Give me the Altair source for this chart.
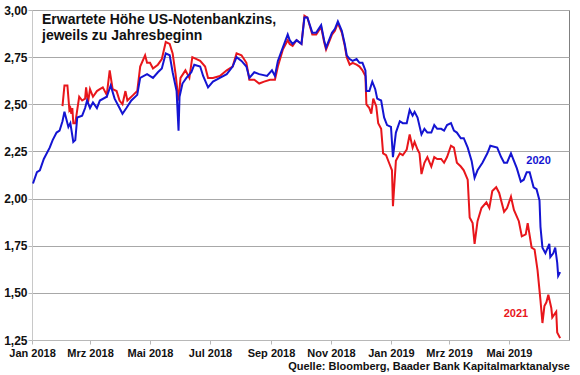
import altair as alt
import pandas as pd

# Days since 2018-01-01 and values (expected Fed rate, %)
blue_days = [1, 5, 8, 12, 18, 21, 25, 28, 31, 33, 37, 39, 42, 44, 46, 51, 54, 56, 59, 62,
             66, 69, 76, 80, 84, 89, 92, 96, 101, 107, 110, 117, 123, 128, 132, 136, 140, 143, 147, 149,
             150, 153, 157, 162, 165, 171, 174, 179, 184, 191, 198, 204, 208, 213, 218, 221, 226, 231, 239, 244,
             247, 250, 255, 260, 262, 265, 269, 274, 277, 280, 285, 289, 294, 297, 299, 305, 308, 311, 315, 318,
             320, 323, 326, 330, 333, 336, 339, 340, 343, 346, 349, 351, 355, 358, 361, 365, 367, 370, 374, 377,
             381, 384, 387, 389, 392, 396, 399, 402, 406, 409, 412, 416, 419, 422, 426, 429, 432, 436, 439, 443,
             447, 450, 453, 458, 463, 466, 473, 477, 480, 483, 487, 490, 493, 497, 500, 503, 506, 510, 513, 516,
             517, 519, 522, 526, 527, 530, 532, 534, 535, 537]
blue_vals = [2.08, 2.14, 2.15, 2.21, 2.27, 2.31, 2.35, 2.36, 2.41, 2.46, 2.38, 2.40, 2.30, 2.31, 2.43, 2.44, 2.48, 2.52, 2.48, 2.51,
             2.48, 2.52, 2.54, 2.60, 2.53, 2.48, 2.45, 2.48, 2.52, 2.55, 2.64, 2.66, 2.64, 2.67, 2.69, 2.77, 2.76, 2.67, 2.57, 2.36,
             2.54, 2.61, 2.64, 2.67, 2.71, 2.70, 2.65, 2.59, 2.62, 2.64, 2.66, 2.70, 2.75, 2.73, 2.70, 2.64, 2.67, 2.66, 2.65, 2.68,
             2.65, 2.73, 2.80, 2.87, 2.84, 2.82, 2.84, 2.82, 2.96, 2.96, 2.88, 2.88, 2.92, 2.84, 2.80, 2.88, 2.90, 2.94, 2.89, 2.82,
             2.76, 2.74, 2.73, 2.74, 2.72, 2.72, 2.68, 2.57, 2.57, 2.62, 2.58, 2.53, 2.52, 2.43, 2.39, 2.38, 2.22, 2.35, 2.41, 2.40,
             2.40, 2.47, 2.44, 2.46, 2.43, 2.34, 2.37, 2.35, 2.35, 2.39, 2.37, 2.37, 2.36, 2.39, 2.40, 2.36, 2.35, 2.32, 2.32, 2.27,
             2.20, 2.11, 2.15, 2.19, 2.24, 2.28, 2.27, 2.22, 2.19, 2.19, 2.24, 2.20, 2.16, 2.09, 2.10, 2.14, 2.14, 2.06, 2.05, 1.99,
             1.85, 1.74, 1.71, 1.76, 1.69, 1.71, 1.74, 1.66, 1.59, 1.61]

red_days = [31, 33, 36, 38, 39, 40, 41, 42, 44, 46, 48, 51, 54, 55, 57, 59, 62, 66, 69, 72,
            76, 79, 82, 86, 89, 92, 95, 97, 103, 107, 110, 115, 117, 120, 123, 128, 132, 136, 140, 143,
            146, 149, 151, 156, 160, 163, 171, 176, 179, 184, 191, 198, 204, 208, 213, 218, 221, 226, 231, 236,
            242, 247, 250, 255, 260, 262, 265, 269, 274, 277, 280, 285, 289, 294, 297, 299, 305, 308, 311, 315,
            318, 320, 323, 326, 330, 333, 336, 339, 340, 343, 345, 347, 350, 352, 355, 357, 360, 363, 366, 367,
            368, 370, 374, 377, 381, 384, 387, 389, 392, 394, 396, 399, 402, 406, 409, 412, 416, 419, 422, 426,
            429, 432, 436, 439, 443, 445, 448, 450, 453, 457, 462, 465, 468, 472, 475, 480, 483, 487, 490, 495,
            498, 502, 504, 508, 511, 514, 517, 519, 521, 523, 525, 528, 529, 533, 534, 537]
red_vals = [2.49, 2.60, 2.60, 2.47, 2.48, 2.45, 2.48, 2.40, 2.40, 2.47, 2.54, 2.52, 2.53, 2.59, 2.51, 2.58, 2.54, 2.57, 2.58, 2.59,
            2.55, 2.68, 2.58, 2.57, 2.52, 2.50, 2.57, 2.52, 2.55, 2.57, 2.70, 2.76, 2.72, 2.72, 2.69, 2.71, 2.74, 2.83, 2.82, 2.77,
            2.66, 2.52, 2.64, 2.68, 2.64, 2.75, 2.73, 2.70, 2.64, 2.64, 2.65, 2.68, 2.70, 2.77, 2.76, 2.72, 2.63, 2.63, 2.61, 2.62,
            2.63, 2.63, 2.70, 2.79, 2.84, 2.82, 2.81, 2.84, 2.82, 2.97, 2.96, 2.87, 2.87, 2.91, 2.83, 2.79, 2.87, 2.89, 2.93, 2.88,
            2.81, 2.75, 2.71, 2.72, 2.71, 2.70, 2.68, 2.65, 2.50, 2.48, 2.45, 2.53, 2.49, 2.40, 2.37, 2.24, 2.23, 2.19, 2.15, 1.96,
            2.04, 2.20, 2.24, 2.23, 2.26, 2.34, 2.27, 2.30, 2.26, 2.24, 2.13, 2.19, 2.22, 2.17, 2.22, 2.21, 2.21, 2.19, 2.22, 2.28,
            2.27, 2.19, 2.17, 2.15, 2.10, 1.90, 1.87, 1.76, 1.88, 1.95, 1.98, 1.95, 2.04, 2.06, 2.03, 1.93, 1.95, 2.01, 1.94, 1.88,
            1.80, 1.81, 1.87, 1.74, 1.73, 1.62, 1.46, 1.34, 1.43, 1.45, 1.49, 1.42, 1.37, 1.40, 1.29, 1.26]

series_names = ["2020", "2021"]
series_colors = ["#1414d2", "#e8161b"]
title_lines = ["Erwartete Höhe US-Notenbankzins,", "jeweils zu Jahresbeginn"]
source_text = "Quelle: Bloomberg, Baader Bank Kapitalmarktanalyse"
y_ticks = [1.25, 1.50, 1.75, 2.00, 2.25, 2.50, 2.75, 3.00]
month_names = ["Jan", "Feb", "Mrz", "Apr", "Mai", "Jun", "Jul", "Aug", "Sep", "Okt", "Nov", "Dez"]
x_tick_months = [(2018, 1), (2018, 3), (2018, 5), (2018, 7), (2018, 9), (2018, 11),
                 (2019, 1), (2019, 3), (2019, 5)]
label_pos = {"2020": ("2019-05-31", 2.20), "2021": ("2019-05-08", 1.39)}

base_date = pd.Timestamp("2018-01-01")
blue_df = pd.DataFrame({"date": base_date + pd.to_timedelta(blue_days, unit="D"), "value": blue_vals, "series": series_names[0]})
red_df = pd.DataFrame({"date": base_date + pd.to_timedelta(red_days, unit="D"), "value": red_vals, "series": series_names[1]})
for d in (blue_df, red_df):
    d["date"] = d["date"].dt.strftime("%Y-%m-%dT%H:%M:%S")

lab_df = pd.DataFrame({
    "series": list(label_pos.keys()),
    "date": [label_pos[k][0] + "T00:00:00" for k in label_pos],
    "value": [label_pos[k][1] for k in label_pos],
})

FONT = "Liberation Sans"
month_arr = "[" + ",".join("'%s'" % m for m in month_names) + "]"

x_scale = alt.Scale(domain=[alt.DateTime(year=2018, month=1, date=1), alt.DateTime(year=2019, month=7, date=1)])
y_scale = alt.Scale(domain=[1.25, 3.0], nice=False, zero=False)
color_scale = alt.Scale(domain=series_names, range=series_colors)

x_axis = alt.Axis(
    values=[alt.DateTime(year=y, month=m, date=1) for y, m in x_tick_months],
    labelExpr=month_arr + "[month(datum.value)] + ' ' + year(datum.value)",
    title=None, grid=False, domainColor="#b8b8b8", tickColor="#b8b8b8", tickSize=4,
    labelPadding=3, labelFont=FONT, labelFontSize=11, labelFontWeight="bold", labelColor="#111",
    labelOverlap=False, labelBound=False, labelFlush=False,
)
y_axis = alt.Axis(
    values=y_ticks,
    labelExpr="replace(format(datum.value, '.2f'), '.', ',')",
    title=None, grid=True, gridColor="#a8a8a8", domainColor="#c8c8c8", tickColor="#b8b8b8", tickSize=4,
    labelPadding=1, labelFont=FONT, labelFontSize=12, labelFontWeight="bold", labelColor="#111",
    labelOverlap=False,
)

red_line = alt.Chart(red_df).mark_line(strokeWidth=2).encode(
    x=alt.X("date:T", scale=x_scale, axis=x_axis),
    y=alt.Y("value:Q", scale=y_scale, axis=y_axis),
    color=alt.Color("series:N", scale=color_scale, legend=None),
)
blue_line = alt.Chart(blue_df).mark_line(strokeWidth=2).encode(
    x=alt.X("date:T", scale=x_scale),
    y=alt.Y("value:Q", scale=y_scale),
    color=alt.Color("series:N", scale=color_scale, legend=None),
)

labels = alt.Chart(lab_df).mark_text(font=FONT, fontSize=11, fontWeight="bold", align="center", baseline="middle").encode(
    x=alt.X("date:T", scale=x_scale),
    y=alt.Y("value:Q", scale=y_scale),
    text="series:N",
    color=alt.Color("series:N", scale=color_scale, legend=None),
)

title = alt.Chart(pd.DataFrame({"t": ["\n".join(title_lines)]})).mark_text(
    font=FONT, fontSize=14, fontWeight="bold", align="left", baseline="alphabetic",
    lineHeight=16, lineBreak="\n", color="#111",
).encode(x=alt.value(10), y=alt.value(14), text="t:N")

source = alt.Chart(pd.DataFrame({"t": [source_text]})).mark_text(
    font=FONT, fontSize=11, fontWeight="bold", align="right", baseline="alphabetic", color="#111",
).encode(x=alt.value(538), y=alt.value(360), text="t:N")

chart = alt.layer(red_line, blue_line, labels, title, source).properties(
    width=537, height=330,
    autosize=alt.AutoSizeParams(type="none"),
    padding={"left": 32, "top": 10, "right": 11, "bottom": 35},
).configure_view(stroke="#808080", strokeWidth=1)

chart.save("out.html", embed_options={"renderer": "svg", "actions": False})
